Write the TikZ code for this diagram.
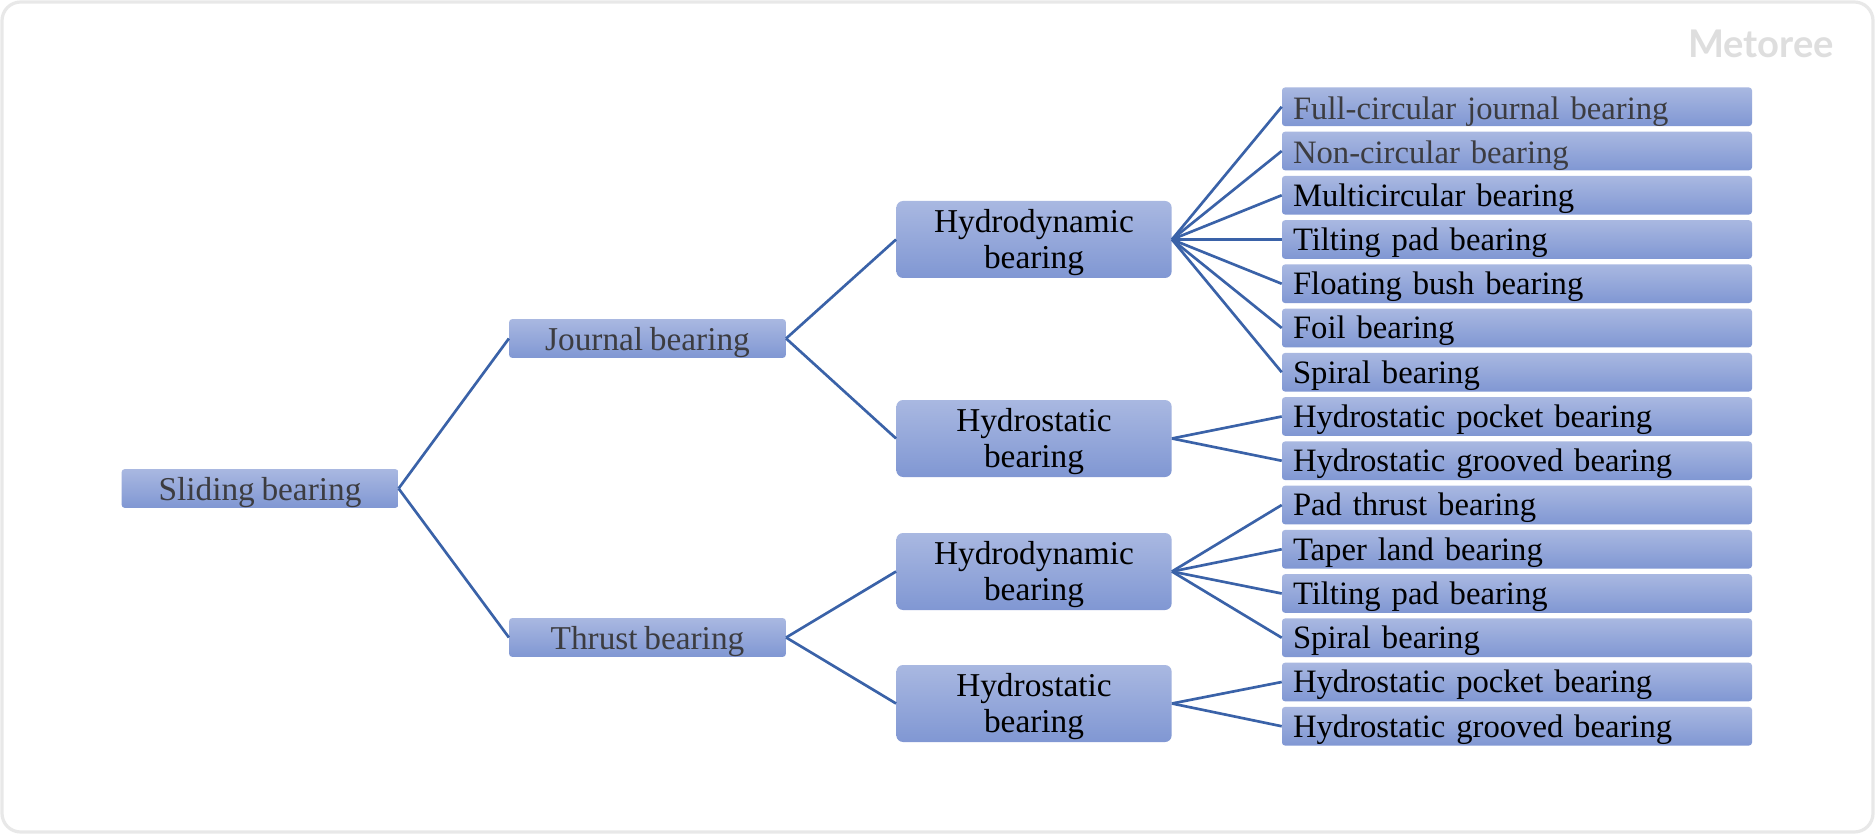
\documentclass[tikz,border=0pt]{standalone}
\usepackage{fontspec}
\setmainfont[WordSpace=0.8]{Liberation Serif}
\newfontfamily\wmfont{Lato}
\definecolor{linkblue}{HTML}{3A62A8}
\definecolor{boxtop}{HTML}{A9B8E1}
\definecolor{boxbot}{HTML}{8097D3}
\definecolor{greytext}{HTML}{3C3C40}
\definecolor{framegrey}{HTML}{E8E8E8}
\definecolor{wmgrey}{HTML}{DEDEDE}
\newcommand{\midstrut}{\rule{0pt}{22pt}}
\tikzset{
  boxbase/.style={shading=axis,top color=boxtop,bottom color=boxbot,draw=none,inner sep=0pt,anchor=center,
    font=\fontsize{25pt}{27pt}\selectfont},
  leafbox/.style={boxbase,font=\fontsize{24.5pt}{27pt}\selectfont,rounded corners=2.2pt,minimum height=28.9pt,text width=336pt,minimum width=352.5pt,inner xsep=8.25pt,align=left,text depth=0pt,text height=16.2pt},
  levelbox/.style={boxbase,rounded corners=2.2pt,minimum height=29pt,minimum width=207.5pt,align=center,text depth=0pt,text height=18.4pt},
  midbox/.style={boxbase,rounded corners=5pt,minimum height=57.75pt,minimum width=206.5pt,align=center},
  link/.style={draw=linkblue,line width=2pt},
  grey/.style={text=greytext},
  greyleaf/.style={leafbox,text=greytext,text height=19pt},
}
\begin{document}
\begin{tikzpicture}[x=0.75pt,y=-0.75pt]
\useasboundingbox (0,0) rectangle (1875,834);
\fill[white] (0,0) rectangle (1875,834);
\draw[framegrey,line width=2.4pt,rounded corners=14pt] (2,2) rectangle (1873,832);
\node[font=\wmfont\bfseries\fontsize{28.6pt}{30pt}\selectfont,text=wmgrey,inner sep=0pt] (wm) at (1761,44) {Metoree};

\node[levelbox,grey] (root) at (260,488.5) {Sliding bearing};
\node[levelbox,grey] (j) at (647.5,338.5) {Journal bearing};
\node[levelbox,grey] (t) at (647.5,637.5) {Thrust bearing};
\node[midbox] (m1) at (1034,239.5) {\midstrut Hydrodynamic\\bearing};
\node[midbox] (m2) at (1034,438.5) {\midstrut Hydrostatic\\bearing};
\node[midbox] (m3) at (1034,571.5) {\midstrut Hydrodynamic\\bearing};
\node[midbox] (m4) at (1034,703.5) {\midstrut Hydrostatic\\bearing};

\node[greyleaf] (l1) at (1517,106.75) {Full-circular journal bearing};
\node[greyleaf] (l2) at (1517,151) {Non-circular bearing};
\node[leafbox] (l3) at (1517,195.25) {Multicircular bearing};
\node[leafbox] (l4) at (1517,239.5) {Tilting pad bearing};
\node[leafbox] (l5) at (1517,283.75) {Floating bush bearing};
\node[leafbox] (l6) at (1517,328) {Foil bearing};
\node[leafbox] (l7) at (1517,372.25) {Spiral bearing};
\node[leafbox] (l8) at (1517,416.5) {Hydrostatic pocket bearing};
\node[leafbox] (l9) at (1517,460.75) {Hydrostatic grooved bearing};
\node[leafbox] (l10) at (1517,505) {Pad thrust bearing};
\node[leafbox] (l11) at (1517,549.25) {Taper land bearing};
\node[leafbox] (l12) at (1517,593.5) {Tilting pad bearing};
\node[leafbox] (l13) at (1517,637.75) {Spiral bearing};
\node[leafbox] (l14) at (1517,682) {Hydrostatic pocket bearing};
\node[leafbox] (l15) at (1517,726.25) {Hydrostatic grooved bearing};

\foreach \a/\b in {root/j,root/t,j/m1,j/m2,t/m3,t/m4,
  m1/l1,m1/l2,m1/l3,m1/l4,m1/l5,m1/l6,m1/l7,m2/l8,m2/l9,
  m3/l10,m3/l11,m3/l12,m3/l13,m4/l14,m4/l15}
  \draw[link] (\a.east) -- (\b.west);
\end{tikzpicture}
\end{document}
